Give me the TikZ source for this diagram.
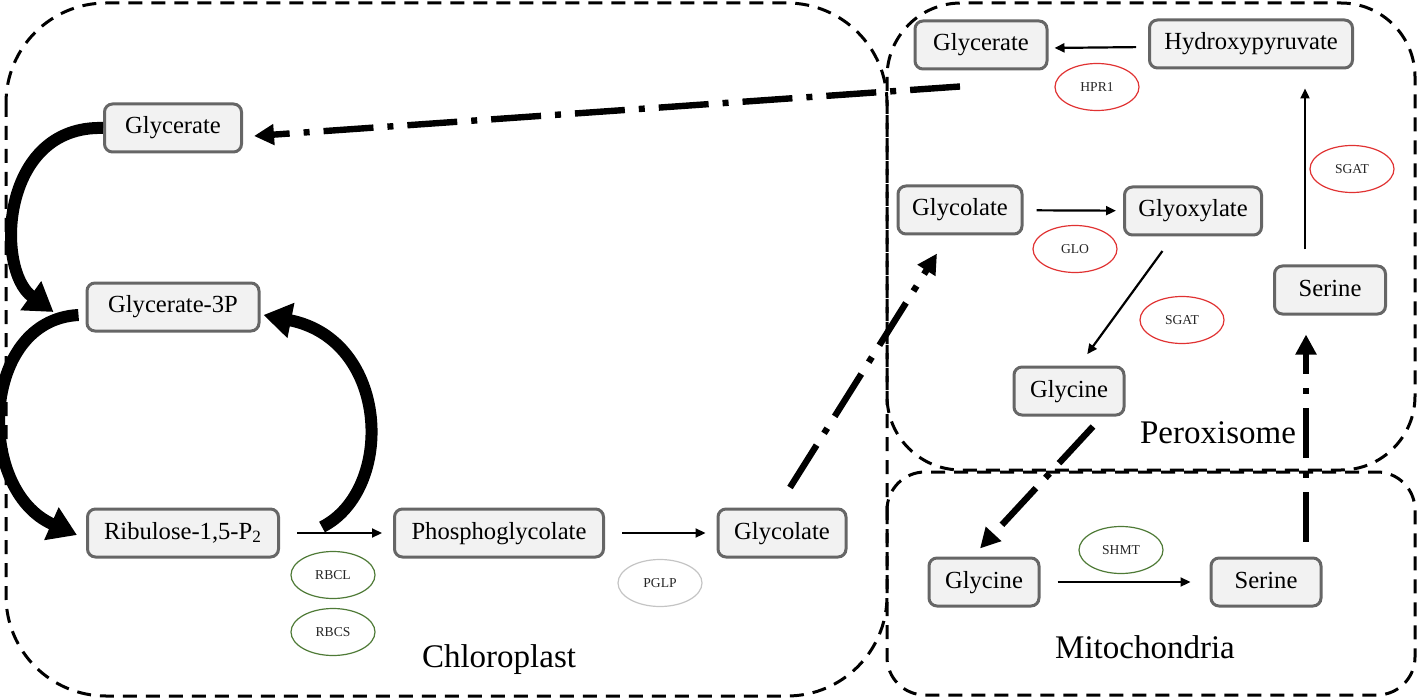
\documentclass[tikz,border=0pt]{standalone}
\usepackage{fontspec}
\setmainfont{Liberation Serif}
\usetikzlibrary{calc,arrows.meta,shapes.geometric}

\definecolor{boxgray}{HTML}{666666}
\definecolor{boxfill}{HTML}{F2F2F2}
\definecolor{enzred}{HTML}{E03232}
\definecolor{enzgreen}{HTML}{4E7A36}
\definecolor{enzgray}{HTML}{C4C4C4}

\tikzset{
	met/.style={draw=boxgray, fill=boxfill, line width=1.5pt, rounded corners=4pt, minimum width=#1, minimum height=24pt, inner sep=2pt, text height=8.6pt, text depth=2.6pt, font=\fontsize{12.3}{14}\selectfont},
	enz/.style={ellipse, draw=#1, line width=0.6pt, minimum width=42pt, minimum height=23.5pt, inner sep=0pt, text=black!85, font=\fontsize{6.8}{8}\selectfont},
	react/.style={line width=1.1pt, -{Triangle[length=5pt,width=4.5pt]}},
	transp/.style={line width=3.2pt, dash pattern=on 25pt off 7pt on 3pt off 7pt, -{Triangle[length=10pt,width=10pt]}},
	cyc/.style={line width=6pt, -{Triangle[length=14pt,width=17pt]}},
	compart/.style={line width=1.5pt, dash pattern=on 7pt off 4.5pt},
	comptext/.style={font=\fontsize{16.5}{19}\selectfont}
}

\begin{document}
\begin{tikzpicture}[x=0.5pt,y=-0.5pt]
			\useasboundingbox (0,0) rectangle (1418,700);
			
			%compartments
			\draw[compart, rounded corners=50pt] (6,3) rectangle (887,696);
			\draw[compart, rounded corners=37pt] (887,3) rectangle (1415,470);
			\draw[compart, rounded corners=19pt] (887,472) rectangle (1415,695);
			
			\node[comptext] (chl) at (499,660) {Chloroplast};
			\node[comptext] (per) at (1218,433) {Peroxisome};
			\node[comptext] (mit) at (1145,647) {Mitochondria};
			
			%chloroplast
			\node[met=68.5pt] (glyc) at (173,128) {Glycerate};
			\node[met=86pt] (g3p) at ($(glyc)+(0,179)$) {Glycerate-3P};
			\node[met=95.5pt] (rib) at (183,533) {Ribulose-1,5-P\textsubscript{2}};
			\node[met=104.5pt] (pglyc) at ($(rib)+(316,0)$) {Phosphoglycolate};
			\node[met=64pt] (glcc) at ($(pglyc)+(283,0)$) {Glycolate};
			
			\node[enz=enzgreen] (rbcl) at (333,575) {RBCL};
			\node[enz=enzgreen] (rbcs) at ($(rbcl)+(0,57)$) {RBCS};
			\node[enz=enzgray] (pglp) at (660,583) {PGLP};
			
			%peroxisome
			\node[met=66pt] (gtp) at (981,45) {Glycerate};
			\node[met=101.5pt] (hyd) at (1251,44) {Hydroxypyruvate};
			\node[met=62pt] (glcp) at (960,210) {Glycolate};
			\node[met=68.5pt] (glox) at ($(glcp)+(233,1)$) {Glyoxylate};
			\node[met=55.5pt] (serp) at (1330,290) {Serine};
			\node[met=55pt] (glyp) at (1069,391) {Glycine};
			
			\node[enz=enzred] (hpr) at (1097,87) {HPR1};
			\node[enz=enzred] (sgatb) at (1352,169) {SGAT};
			\node[enz=enzred] (glo) at (1075,249) {GLO};
			\node[enz=enzred] (sgata) at (1182,320) {SGAT};
			
			%mitochondria
			\node[met=55pt] (glym) at (984,582) {Glycine};
			\node[met=55pt] (serm) at ($(glym)+(282,0)$) {Serine};
			\node[enz=enzgreen] (shmt) at (1121,550) {SHMT};
			
			%reactions
			\draw[react, shorten <=8.5pt, shorten >=5.5pt] (rib) -- (pglyc);
			\draw[react, shorten <=8.5pt, shorten >=5.5pt] (pglyc) -- (glcc);
			\draw[react, shorten <=6.5pt, shorten >=3.5pt] (glcp) -- (glox);
			\draw[react, shorten <=6pt, shorten >=3pt] ([yshift=-1.5pt]hyd.west) -- ([yshift=-1.5pt]gtp.east);
			\draw[react, shorten <=9pt, shorten >=7pt] ([xshift=-10pt]glox.south) -- ([xshift=5pt]glyp.north);
			\draw[react, shorten <=7.5pt, shorten >=9.5pt] ([xshift=-12.5pt]serp.north) -- ([xshift=-12.5pt]serp.north |- hyd.south);
			\draw[react, shorten <=8.5pt, shorten >=9.5pt] (glym) -- (serm);
			
			%Calvin cycle
			\coordinate (loop) at ($(rib.east)+(42,-6)$);
			\draw[cyc] (glyc.west) .. controls (0,125) and (-5,270) .. ($(g3p.west)+(-32,5)$);
			\draw[cyc] ($(g3p.west)+(-7,8)$) .. controls (-20,320) and (-25,490) .. ($(rib.west)+(-9,2)$);
			\draw[cyc] (loop) .. controls (395,490) and (390,340) .. ($(g3p.east)+(3,8)$);
			
			%transport
			\draw[transp] ($(gtp.south)+(-21,16)$) -- ($(glyc.east)+(11,8)$);
			\draw[transp] ($(glcc.north)+(8,-20)$) -- ($(glcp.south)+(-23,18)$);
			\draw[transp] ($(glyp.south)+(24,10)$) -- ($(glym.north)+(-4,-8)$);
			\draw[transp] ($(serm.north)+(40,-15)$) -- ($(serp.south)+(-24,19)$);
\end{tikzpicture}
\end{document}
